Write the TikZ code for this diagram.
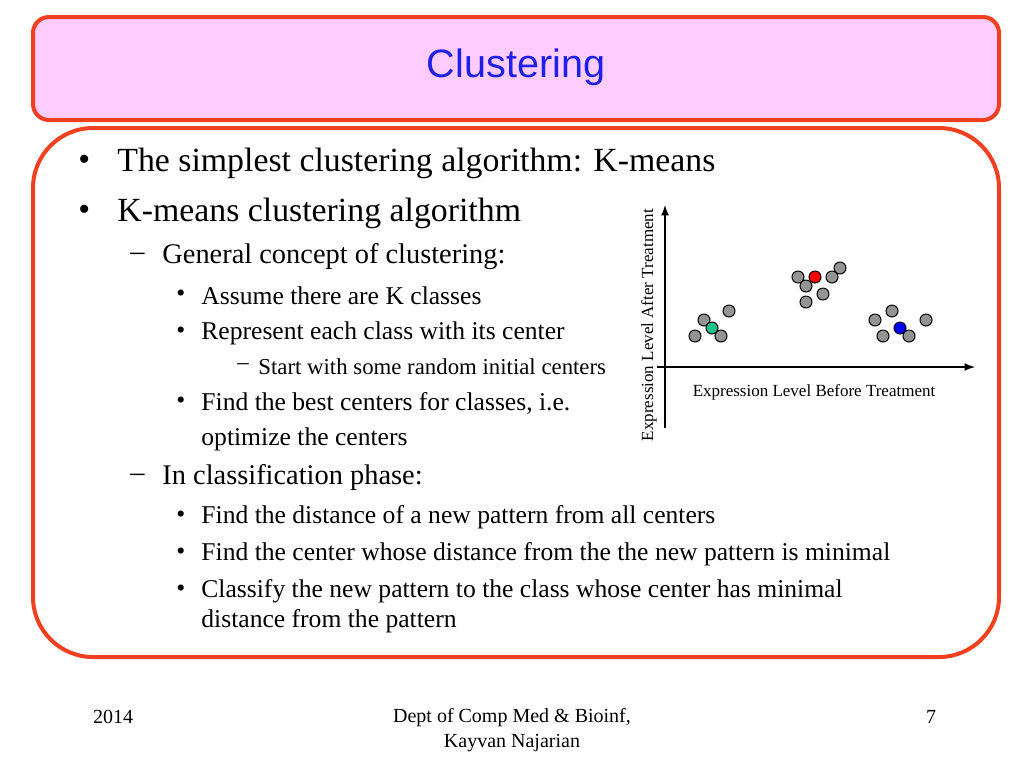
\documentclass[tikz,border=0pt]{standalone}
\usepackage{fontspec}
\setmainfont{Liberation Serif}
\setsansfont{Liberation Sans}
\definecolor{frame}{HTML}{F04020}
\definecolor{titlefill}{HTML}{FFCCFF}
\definecolor{titleblue}{HTML}{1F1FE6}
\definecolor{teal}{HTML}{20C090}
\begin{document}
\begin{tikzpicture}[x=0.5pt,y=-0.5pt,
    txt/.style={anchor=west,inner sep=0pt},
    lvA/.style={txt,font=\fontsize{16.9}{19}\selectfont},
    lvB/.style={txt,font=\fontsize{14.2}{17}\selectfont},
    lvC/.style={txt,font=\fontsize{12.8}{15}\selectfont},
    lvD/.style={txt,font=\fontsize{11.4}{13}\selectfont},
    foot/.style={inner sep=0pt,font=\fontsize{10}{12.5}\selectfont,align=center},
    pt/.style={circle,draw=black,line width=0.5pt,fill=gray!80!black!70,minimum size=6pt,inner sep=0pt},
    ]
  \useasboundingbox (0,0) rectangle (1024,768);
  % frames
  \draw[frame,line width=2pt,fill=titlefill,rounded corners=8pt] (33,17) rectangle (999,120);
  \node[font=\sffamily\fontsize{19.8}{22}\selectfont,text=titleblue] (title) at (516,67) {Clustering};
  \draw[frame,line width=2pt,fill=white,rounded corners=30pt] (33,128) rectangle (999,657);
  % bullets
  \node[lvA] (b1) at (78,163) {•};
  \node[lvA] (t1) at (117,163) {The simplest clustering algorithm: K-means};
  \node[lvA] (b2) at (78,213) {•};
  \node[lvA] (t2) at (117,213) {K-means clustering algorithm};
  \node[lvB] (d1) at (130,257) {–};
  \node[lvB] (u1) at (162,257) {General concept of clustering:};
  \node[lvC] (b3) at (176,296) {•};
  \node[lvC] (s1) at (201,296) {Assume there are K classes};
  \node[lvC] (b4) at (176,333) {•};
  \node[lvC] (s2) at (201,333) {Represent each class with its center};
  \node[lvD] (d2) at (237,367) {–};
  \node[lvD] (r1) at (258,367) {Start with some random initial centers};
  \node[lvC] (b5) at (176,403) {•};
  \node[lvC] (s3) at (201,403) {Find the best centers for classes, i.e.};
  \node[lvC] (s4) at (201,439) {optimize the centers};
  \node[lvB] (d3) at (130,478) {–};
  \node[lvB] (u2) at (162,478) {In classification phase:};
  \node[lvC] (b6) at (176,517) {•};
  \node[lvC] (s5) at (201,517) {Find the distance of a new pattern from all centers};
  \node[lvC] (b7) at (176,554) {•};
  \node[lvC] (s6) at (201,554) {Find the center whose distance from the the new pattern is minimal};
  \node[lvC] (b8) at (176,591) {•};
  \node[lvC] (s7) at (201,591) {Classify the new pattern to the class whose center has minimal};
  \node[lvC] (s8) at (201,621) {distance from the pattern};
  % scatter plot
  \coordinate (yb) at (665,428);
  \coordinate (yt) at (665,205);
  \coordinate (xl) at (657,367);
  \coordinate (xr) at (975,367);
  \draw[-latex,line width=0.8pt] (yb) -- (yt);
  \draw[-latex,line width=0.8pt] (xl) -- (xr);
  \node[font=\fontsize{8.5}{10}\selectfont,rotate=90,inner sep=0pt] (ylab) at (649,325) {Expression Level After Treatment};
  \node[font=\fontsize{8.5}{10}\selectfont,inner sep=0pt] (xlab) at (814,392) {Expression Level Before Treatment};
  \foreach \x/\y [count=\i] in {695/336,704/320,721/336,729/311,
      798/277,806/286,806/302,823/294,832/277,840/268,
      875/320,892/311,883/336,909/336,926/320}
    \node[pt] (p\i) at (\x,\y) {};
  \node[pt,fill=teal] (cg) at (712,328) {};
  \node[pt,fill=red] (cr) at (815,277) {};
  \node[pt,fill=blue] (cb) at (900,328) {};
  % footer
  \node[foot] (year) at (113,717) {2014};
  \node[foot] (dept) at (512,730) {Dept of Comp Med \& Bioinf,\\Kayvan Najarian};
  \node[foot] (page) at (931,717) {7};
\end{tikzpicture}
\end{document}
